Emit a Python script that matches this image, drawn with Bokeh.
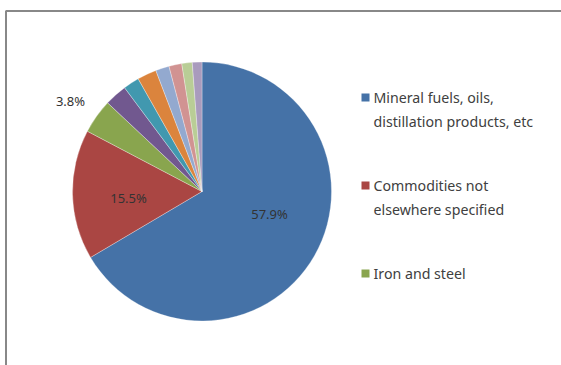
import numpy as np
from bokeh.plotting import figure
from bokeh.models import Range1d, ColumnDataSource, Label
from bokeh.core.properties import value
from bokeh.embed import file_html
from bokeh.resources import INLINE

# --- data (shares of the pie) ---
categories = ["Mineral fuels, oils, distillation products, etc",
              "Commodities not elsewhere specified",
              "Iron and steel",
              "Item 4", "Item 5", "Item 6", "Item 7", "Item 8", "Item 9", "Item 10"]
shares = [66.5, 16.2, 4.3, 2.8, 2.0, 2.4, 1.7, 1.6, 1.3, 1.2]
label_texts = ["57.9%", "15.5%", "3.8%"]
legend_lines = [["Mineral fuels, oils,", "distillation products, etc"],
                ["Commodities not", "elsewhere specified"],
                ["Iron and steel"]]

colors = ["#4572A7", "#AA4643", "#89A54E", "#71588F", "#4198AF",
          "#DB843D", "#93A9CF", "#D19392", "#B9CD96", "#A99BBD"]

W, H = 561, 365
FONT = "Noto Sans"

p = figure(width=W, height=H, output_backend="svg", toolbar_location=None,
           x_range=Range1d(0, W), y_range=Range1d(0, H), min_border=0)
p.axis.visible = False
p.grid.visible = False
p.outline_line_color = None
p.background_fill_color = "white"
p.border_fill_color = "white"

# outer chart-area border (top and left visible)
p.line(x=[5.5, 5.5, W], y=[0, H - 10.5, H - 10.5], line_color="#888888", line_width=2)

# pie
cx, cy, r = 201.5, H - 191, 129.5
frac = np.array(shares) / np.sum(shares)
cum = np.concatenate([[0], np.cumsum(frac)]) * 2 * np.pi
start = np.pi / 2 - cum[:-1]
end = np.pi / 2 - cum[1:]
src = ColumnDataSource(dict(start=start, end=end, color=colors, cat=categories))
p.wedge(x=cx, y=cy, radius=r, radius_units="screen", start_angle="start", end_angle="end",
        direction="clock", fill_color="color", line_color="white", line_width=0.6,
        line_alpha=0.5, source=src)

# data labels
label_pos = [(269, 213), (128, 197), (70, 100)]
for t, (lx, ly) in zip(label_texts, label_pos):
    p.add_layout(Label(x=lx, y=H - ly, text=t, text_font=FONT, text_font_size="13px",
                       text_color="#333333", text_align="center", text_baseline="middle"))

# legend (manual)
entry_y = [97, 185, 273]
line_gap = 23.5
for i, (lines, ey) in enumerate(zip(legend_lines, entry_y)):
    p.rect(x=[365], y=[H - ey], width=8, height=8, width_units="screen",
           height_units="screen", fill_color=colors[i], line_color=None)
    for j, txt in enumerate(lines):
        p.add_layout(Label(x=373, y=H - ey - j * line_gap, text=txt, text_font=FONT,
                           text_font_size="14.2px", text_color="#404040",
                           text_baseline="middle"))

open("out.html", "w").write(file_html(p, INLINE))
